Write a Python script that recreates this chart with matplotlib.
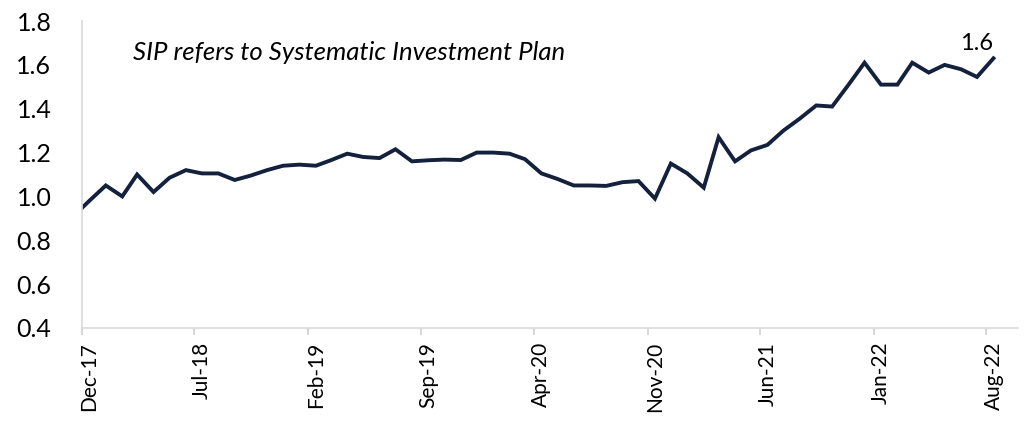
import matplotlib
matplotlib.use('Agg')
import matplotlib.pyplot as plt
import pandas as pd

# monthly SIP series (mid-month points), Nov-17 .. Aug-22
months = pd.date_range('2017-11-01', '2022-08-01', freq='MS') + pd.Timedelta(days=14)
sip = [0.91, 0.98, 1.05, 1.00, 1.10, 1.02, 1.085, 1.12, 1.105,
       1.105, 1.075, 1.095, 1.12, 1.14,
       1.145, 1.14, 1.165, 1.195, 1.18, 1.175, 1.215, 1.16, 1.165, 1.168, 1.166, 1.20,
       1.20, 1.195, 1.17, 1.105, 1.08, 1.05, 1.05, 1.048, 1.065, 1.07, 0.99, 1.15,
       1.105, 1.04, 1.27, 1.16, 1.21, 1.235, 1.30, 1.355, 1.415, 1.41, 1.51, 1.61,
       1.51, 1.51, 1.61, 1.565, 1.60, 1.58, 1.545, 1.63]

tick_labels = ['Dec-17', 'Jul-18', 'Feb-19', 'Sep-19', 'Apr-20',
               'Nov-20', 'Jun-21', 'Jan-22', 'Aug-22']
y_ticks = [0.4, 0.6, 0.8, 1.0, 1.2, 1.4, 1.6, 1.8]

plt.rcParams['font.family'] = ['Lato', 'DejaVu Sans']

fig = plt.figure(figsize=(10.24, 4.21), dpi=100)
ax = fig.add_axes([0.080, 0.221, 0.914, 0.729])

ax.plot(months, sip, color='#13213c', lw=2.8, solid_joinstyle='miter')

# value label on the last point
ax.annotate('%.1f' % sip[-1], (months[-1], sip[-1]), xytext=(0, 3),
            textcoords='offset points', ha='right', va='bottom',
            fontsize=17, color='black')

ax.text(0.0545, 0.896, 'SIP refers to Systematic Investment Plan',
        transform=ax.transAxes, style='italic', fontsize=18.5,
        ha='left', va='center')

ax.set_ylim(0.4, 1.8)
ax.set_yticks(y_ticks, labels=['%.1f' % v for v in y_ticks])
ax.set_xlim(pd.Timestamp('2017-12-01'), pd.Timestamp('2022-09-30'))

# tick marks at the month start, labels under the mid-month point
tick_dates = pd.to_datetime(tick_labels, format='%b-%y')
ax.set_xticks(tick_dates, labels=[''] * len(tick_dates))
ax.set_xticks(tick_dates + pd.Timedelta(days=14), labels=tick_labels, minor=True)
ax.tick_params(axis='x', which='major', length=5, width=1.2, color='#d0d0d0')
ax.tick_params(axis='x', which='minor', length=0, rotation=90, labelsize=15, pad=10)
ax.tick_params(axis='y', length=0, labelsize=18, pad=22)

for side in ['top', 'right']:
    ax.spines[side].set_visible(False)
for side in ['left', 'bottom']:
    ax.spines[side].set_color('#d9d9d9')
    ax.spines[side].set_linewidth(1.2)

plt.savefig('out.png', dpi=100)
